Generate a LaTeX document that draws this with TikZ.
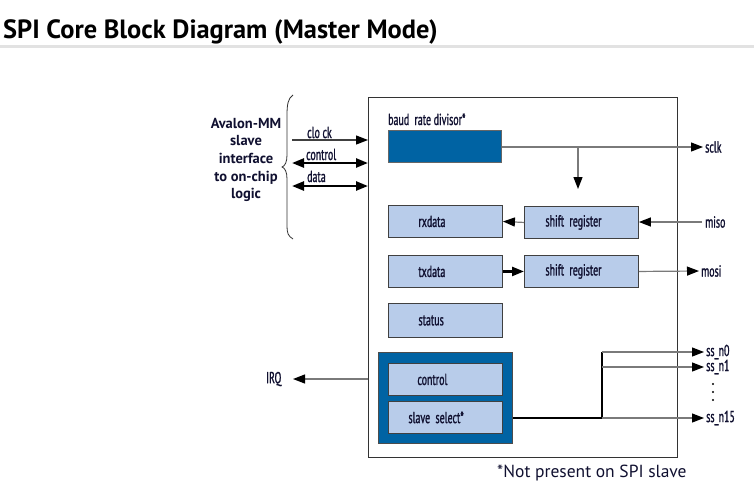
\documentclass[tikz,border=0pt]{standalone}
\usepackage{fontspec}
\setmainfont{PT Sans}
\newfontfamily\cond[FakeStretch=0.62,FakeBold=1.2]{PT Sans}
\usetikzlibrary{arrows.meta}
\definecolor{dblue}{HTML}{0063A3}
\definecolor{lblue}{HTML}{B8CCEA}
\definecolor{rulegray}{HTML}{E2E2E2}
\definecolor{wire}{HTML}{7A7A7A}
\definecolor{ink}{HTML}{101030}
\tikzset{
  lbox/.style={draw=black!75, line width=0.9pt, fill=lblue, text width=106pt, inner xsep=4pt,
    inner ysep=0pt, minimum height=32pt, align=left, anchor=north west,
    font=\cond\fontsize{16}{18}\selectfont, text=ink},
  lab/.style={font=\cond\fontsize{16}{18}\selectfont, inner sep=0pt, text=ink},
  tip/.style={-{Triangle[length=12pt,width=9pt,color=black]}},
  thinwire/.style={draw=wire, line width=1.2pt},
  thickwire/.style={draw=black, line width=2.4pt},
  dot/.style={circle, fill=black, inner sep=0pt, minimum size=2.2pt},
}
\begin{document}
\begin{tikzpicture}[x=1pt,y=-1pt]
\useasboundingbox (0,0) rectangle (754,482);
% title
\node[anchor=base west, inner sep=0pt, font=\bfseries\fontsize{26.4}{30}\selectfont] (title) at (3,38) {SPI Core Block Diagram (Master Mode)};
\draw[rulegray, line width=2.2pt] (0,46.5) -- (754,46.5);
% core box
\node[draw=black!80, line width=0.9pt, minimum width=309pt, minimum height=360pt, anchor=north west, inner sep=0pt] (core) at (368,97) {};
% baud rate divisor
\node[lab, anchor=base west] (baudlab) at (388,125) {baud\ \ rate divisor*};
\node[draw=black!60, line width=0.6pt, fill=dblue, minimum width=113pt, minimum height=32pt, anchor=north west, inner sep=0pt] (baud) at (388,130) {};
% boxes
\node[lbox] (rx) at (388,205) {\hspace*{26pt}rxdata};
\node[lbox] (sr1) at (524,206) {\hspace*{17pt}shift register};
\node[lbox] (tx) at (388,255) {\hspace*{26pt}txdata};
\node[lbox] (sr2) at (524,255) {\hspace*{17pt}shift register};
\node[lbox, minimum height=34pt] (st) at (388,303) {\hspace*{26pt}status};
\node[draw=black!70, line width=0.9pt, fill=dblue, minimum width=134pt, minimum height=91pt, anchor=north west, inner sep=0pt] (outer) at (378,352) {};
\node[lbox] (ctl) at (388,363) {\hspace*{25pt}control};
\node[lbox] (ss) at (388,401) {\hspace*{16pt}slave select*};
% coordinates
\coordinate (sclkc) at (703,147);
\coordinate (dn) at (578,189);
\coordinate (misoc) at (702,222);
\coordinate (mosic) at (699,271);
\coordinate (irqc) at (293,379);
\coordinate (clkc) at (292,140);
\coordinate (ctlc) at (292,163);
\coordinate (datc) at (292,186);
\coordinate (bend) at (602,418);
\coordinate (top) at (602,352);
\coordinate (s0) at (704,352);
\coordinate (s1) at (704,367);
\coordinate (s15) at (704,418);
% right side connectors
\draw[thinwire, tip] (baud.east |- sclkc) -- (sclkc);
\draw[thinwire, tip] (dn |- sclkc) -- (dn);
\draw[thinwire, tip] (misoc) -- (sr1.east |- misoc);
\draw[thinwire, tip] (sr1.west) -- (rx.east);
\draw[thickwire, -{Triangle[length=12pt,width=9pt]}] (tx.east) -- (sr2.west);
\draw[thinwire, tip] (sr2.east) -- (mosic);
\draw[thinwire, tip] (core.west |- irqc) -- (irqc);
\draw[thickwire] (outer.east |- bend) -- (bend) -- (top);
\draw[thinwire, tip] (top) -- (s0);
\draw[thinwire, tip] (bend |- s1) -- (s1);
\draw[thinwire, tip] (bend) -- (s15);
% left connectors
\draw[draw=black!75, line width=1.2pt, tip] (clkc) -- (core.west |- clkc);
\draw[thickwire, {Triangle[length=12pt,width=9pt]}-{Triangle[length=12pt,width=9pt]}] (ctlc) -- (core.west |- ctlc);
\draw[thickwire, {Triangle[length=12pt,width=9pt]}-{Triangle[length=12pt,width=9pt]}] (datc) -- (core.west |- datc);
\node[lab, anchor=base west] (clklab) at (307,138) {clo ck};
\node[lab, anchor=base west] (ctllab) at (306,160) {control};
\node[lab, anchor=base west] (datlab) at (307,182) {data};
% brace
\draw[black!80, line width=0.8pt] (293,95) .. controls (288,98) and (287,105) .. (287,115) -- (287,155)
  .. controls (287,162) and (285,166) .. (282,167) .. controls (285,168) and (287,172) .. (287,179)
  -- (287,226) .. controls (287,233) and (288,236) .. (293,239);
\node[align=center, inner sep=0pt, text=ink, font=\fontsize{14.5}{17.6}\selectfont\bfseries] (avalon) at (246,160)
  {Avalon-MM\\slave\\interface\\to on-chip\\logic};
% labels on right
\node[lab, anchor=west] (sclk) at (705,147) {sclk};
\node[lab, anchor=west] (miso) at (705,222) {miso};
\node[lab, anchor=west] (mosi) at (701,271) {mosi};
\node[lab, anchor=west] (irq) at (266,379) {IRQ};
\node[lab, anchor=west] (ssn0) at (706,352) {ss\_n0};
\node[lab, anchor=west] (ssn1) at (706,367) {ss\_n1};
\node[lab, anchor=west] (ssn15) at (706,418) {ss\_n15};
\node[dot] (d1) at (713,384) {};
\node[dot] (d2) at (713,392) {};
\node[dot] (d3) at (713,400) {};
% footnote
\node[anchor=base west, inner sep=0pt, text=ink, font=\fontsize{17.5}{20}\selectfont] (note) at (497,477) {*Not present on SPI slave};
\end{tikzpicture}
\end{document}
